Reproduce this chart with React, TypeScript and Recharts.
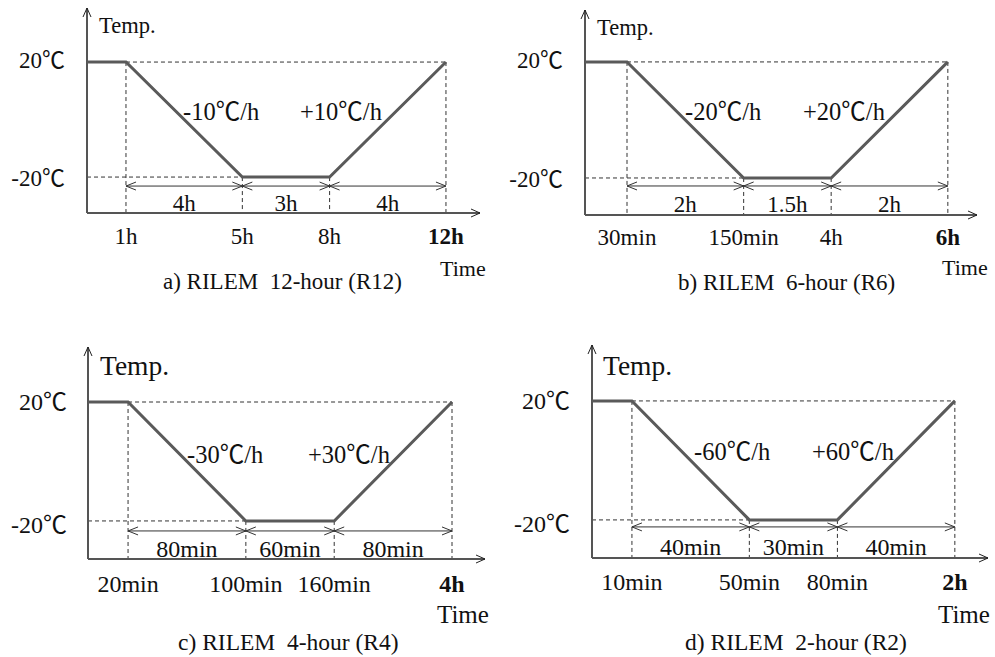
import React from "react";
import { LineChart, Line, XAxis, YAxis, ReferenceLine } from "recharts";

const FONT = '"Liberation Serif", "Times New Roman", serif';
const CJK = '"Noto Sans CJK SC", "DejaVu Sans", sans-serif';

// temperature levels and the shape of every cycle (hold, cool, hold, warm)
const levels = [20, -20];
const levelLabels = ["20℃", "-20℃"];
const profileTemps = [20, 20, -20, -20, 20];

// a) R12, time in hours
const r12Times = [1, 5, 8, 12];
const r12Ticks = ["1h", "5h", "8h", "12h"];
const r12Spans = ["4h", "3h", "4h"];
const r12Rates = ["-10℃/h", "+10℃/h"];

// b) R6, time in hours
const r6Times = [0.5, 2.5, 4, 6];
const r6Ticks = ["30min", "150min", "4h", "6h"];
const r6Spans = ["2h", "1.5h", "2h"];
const r6Rates = ["-20℃/h", "+20℃/h"];

// c) R4, time in minutes
const r4Times = [20, 100, 160, 240];
const r4Ticks = ["20min", "100min", "160min", "4h"];
const r4Spans = ["80min", "60min", "80min"];
const r4Rates = ["-30℃/h", "+30℃/h"];

// d) R2, time in minutes
const r2Times = [10, 50, 80, 120];
const r2Ticks = ["10min", "50min", "80min", "2h"];
const r2Spans = ["40min", "30min", "40min"];
const r2Rates = ["-60℃/h", "+60℃/h"];

type Txt = { x: number; y: number; size: number };

type Panel = {
  id: string;
  title: string;
  times: number[];
  ticks: string[];
  spans: string[];
  rates: string[];
  left: number;
  top: number;
  width: number;
  height: number;
  marginTop: number;
  marginRight: number;
  yAxisWidth: number;
  xAxisHeight: number;
  xDomain: [number, number];
  yDomain: [number, number];
  tickDy: number;
  levelDy: number[];
  levelGap: number;
  arrowDy: number;
  spanDy: number;
  size: number;
  rateSize: number;
  temp: Txt;
  time: Txt;
  head: Txt;
  rateAt: { x: number; y: number }[];
};

const panels: Panel[] = [
  {
    id: "a", title: "a) RILEM \u00a012-hour (R12)",
    times: r12Times, ticks: r12Ticks, spans: r12Spans, rates: r12Rates,
    left: 0, top: 0, width: 495, height: 325,
    marginTop: 8, marginRight: 15, yAxisWidth: 87, xAxisHeight: 112,
    xDomain: [-0.34, 13.17], yDomain: [-32.5, 38.8],
    tickDy: 31, levelDy: [6, 9], levelGap: 22, arrowDy: 9, spanDy: 34, size: 23, rateSize: 24.5,
    temp: { x: 99, y: 33, size: 22.5 }, time: { x: 440, y: 276, size: 22 },
    head: { x: 163, y: 289, size: 23 },
    rateAt: [{ x: 183, y: 120 }, { x: 300, y: 120 }],
  },
  {
    id: "b", title: "b) RILEM \u00a06-hour (R6)",
    times: r6Times, ticks: r6Ticks, spans: r6Spans, rates: r6Rates,
    left: 495, top: 0, width: 500, height: 325,
    marginTop: 10, marginRight: 18, yAxisWidth: 90, xAxisHeight: 110,
    xDomain: [-0.22, 6.5], yDomain: [-32.76, 37.9],
    tickDy: 30, levelDy: [6, 9], levelGap: 22, arrowDy: 8, spanDy: 34, size: 23, rateSize: 24.5,
    temp: { x: 102, y: 35, size: 22.5 }, time: { x: 447, y: 275, size: 22 },
    head: { x: 183, y: 290, size: 23 },
    rateAt: [{ x: 190, y: 120 }, { x: 308, y: 120 }],
  },
  {
    id: "c", title: "c) RILEM \u00a04-hour (R4)",
    times: r4Times, ticks: r4Ticks, spans: r4Spans, rates: r4Rates,
    left: 0, top: 325, width: 495, height: 332,
    marginTop: 22, marginRight: 10, yAxisWidth: 88, xAxisHeight: 98,
    xDomain: [-7.2, 262.4], yDomain: [-32.8, 38.5],
    tickDy: 33, levelDy: [8, 12], levelGap: 21, arrowDy: 10, spanDy: 36, size: 24, rateSize: 24.5,
    temp: { x: 100, y: 50, size: 27.5 }, time: { x: 437, y: 298, size: 25 },
    head: { x: 178, y: 325, size: 23.5 },
    rateAt: [{ x: 187, y: 138 }, { x: 308, y: 138 }],
  },
  {
    id: "d", title: "d) RILEM \u00a02-hour (R2)",
    times: r2Times, ticks: r2Ticks, spans: r2Spans, rates: r2Rates,
    left: 495, top: 325, width: 500, height: 332,
    marginTop: 20, marginRight: 7, yAxisWidth: 97, xAxisHeight: 99,
    xDomain: [-3.6, 131.3], yDomain: [-32.8, 38.8],
    tickDy: 32, levelDy: [8, 12], levelGap: 22, arrowDy: 7, spanDy: 35, size: 24, rateSize: 24.5,
    temp: { x: 108, y: 50, size: 27.5 }, time: { x: 443, y: 298, size: 25 },
    head: { x: 190, y: 325, size: 23.5 },
    rateAt: [{ x: 199, y: 135 }, { x: 317, y: 135 }],
  },
];

// splits "℃" out so it is drawn with a CJK font like the original
function withCelsius(s: string) {
  const parts = s.split("℃");
  if (parts.length === 1) return s;
  return (
    <>
      {parts[0]}
      <tspan fontFamily={CJK}>℃</tspan>
      {parts[1]}
    </>
  );
}

function axisShape(p: any) {
  const { x1, y1, x2, y2 } = p;
  const vertical = Math.abs(x1 - x2) < 0.5;
  const head = vertical
    ? `M${x2 - 4},${y2 + 9} L${x2},${y2} L${x2 + 4},${y2 + 9}`
    : `M${x2 - 9},${y2 - 4} L${x2},${y2} L${x2 - 9},${y2 + 4}`;
  return (
    <g>
      <line x1={x1} y1={y1} x2={x2} y2={y2} stroke="#555" strokeWidth={2} />
      <path d={head} fill="none" stroke="#222" strokeWidth={1} />
    </g>
  );
}

function spanShape(label: string, arrowDy: number, textDy: number, size: number) {
  return (p: any) => {
    const a = p.x1;
    const b = p.x2;
    const y = p.y1 + arrowDy;
    return (
      <g>
        <line x1={a} y1={y} x2={b} y2={y} stroke="#333" strokeWidth={1} />
        <path
          d={`M${a + 10},${y - 4} L${a},${y} L${a + 10},${y + 4} M${b - 10},${y - 4} L${b},${y} L${b - 10},${y + 4}`}
          fill="none"
          stroke="#333"
          strokeWidth={1}
        />
        <text x={(a + b) / 2} y={p.y1 + textDy} textAnchor="middle" fontSize={size} fontFamily={FONT} fill="#111">
          {label}
        </text>
      </g>
    );
  };
}

function ProfileChart({ panel }: { panel: Panel }) {
  const [x0, x1] = panel.xDomain;
  const [y0, y1] = panel.yDomain;
  const [tA, tB, tC, tD] = panel.times;
  const hot = levels[0];
  const cold = levels[1];
  const data = [x0, ...panel.times].map((t, i) => ({ t, temp: profileTemps[i] }));
  const dash = "4 3";
  const dashColor = "#333";

  const xTick = (p: any) => {
    const i = panel.times.indexOf(p.payload.value);
    return (
      <text
        x={p.x}
        y={p.y + panel.tickDy}
        textAnchor="middle"
        fontSize={panel.size}
        fontFamily={FONT}
        fontWeight={i === panel.times.length - 1 ? "bold" : "normal"}
        fill="#111"
      >
        {panel.ticks[i]}
      </text>
    );
  };

  const yTick = (p: any) => {
    const i = levels.indexOf(p.payload.value);
    return (
      <text
        x={p.x - panel.levelGap}
        y={p.y + panel.levelDy[i]}
        textAnchor="end"
        fontSize={panel.size}
        fontFamily={FONT}
        fill="#111"
      >
        {withCelsius(levelLabels[i])}
      </text>
    );
  };

  return (
    <div style={{ position: "absolute", left: panel.left, top: panel.top }}>
      <LineChart
        width={panel.width}
        height={panel.height}
        data={data}
        margin={{ top: panel.marginTop, right: panel.marginRight, left: 0, bottom: 0 }}
      >
        <XAxis
          type="number"
          dataKey="t"
          domain={panel.xDomain}
          allowDataOverflow
          ticks={panel.times}
          interval={0}
          height={panel.xAxisHeight}
          axisLine={false}
          tickLine={false}
          tickSize={0}
          tickMargin={0}
          tick={xTick}
        />
        <YAxis
          type="number"
          domain={panel.yDomain}
          allowDataOverflow
          ticks={levels}
          interval={0}
          width={panel.yAxisWidth}
          axisLine={false}
          tickLine={false}
          tickSize={0}
          tickMargin={0}
          tick={yTick}
        />

        {/* guide lines */}
        <ReferenceLine segment={[{ x: tA, y: hot }, { x: tD, y: hot }]} stroke={dashColor} strokeDasharray={dash} ifOverflow="visible" />
        <ReferenceLine segment={[{ x: x0, y: cold }, { x: tB, y: cold }]} stroke={dashColor} strokeDasharray={dash} ifOverflow="visible" />
        <ReferenceLine segment={[{ x: tA, y: hot }, { x: tA, y: y0 }]} stroke={dashColor} strokeDasharray={dash} ifOverflow="visible" />
        <ReferenceLine segment={[{ x: tB, y: cold }, { x: tB, y: y0 }]} stroke={dashColor} strokeDasharray={dash} ifOverflow="visible" />
        <ReferenceLine segment={[{ x: tC, y: cold }, { x: tC, y: y0 }]} stroke={dashColor} strokeDasharray={dash} ifOverflow="visible" />
        <ReferenceLine segment={[{ x: tD, y: hot }, { x: tD, y: y0 }]} stroke={dashColor} strokeDasharray={dash} ifOverflow="visible" />

        {/* duration arrows */}
        {[tA, tB, tC].map((t, i) => (
          <ReferenceLine
            key={"s" + i}
            segment={[{ x: t, y: cold }, { x: panel.times[i + 1], y: cold }]}
            ifOverflow="visible"
            shape={spanShape(panel.spans[i], panel.arrowDy, panel.spanDy, panel.size)}
          />
        ))}

        {/* axes with arrow heads */}
        <ReferenceLine segment={[{ x: x0, y: y0 }, { x: x0, y: y1 }]} ifOverflow="visible" shape={axisShape} />
        <ReferenceLine segment={[{ x: x0, y: y0 }, { x: x1, y: y0 }]} ifOverflow="visible" shape={axisShape} />

        <Line
          type="linear"
          dataKey="temp"
          stroke="#5a5a5a"
          strokeWidth={3}
          dot={false}
          activeDot={false}
          isAnimationActive={false}
        />

        <text x={panel.temp.x} y={panel.temp.y} fontSize={panel.temp.size} fontFamily={FONT} fill="#111">
          Temp.
        </text>
        <text x={panel.time.x} y={panel.time.y} fontSize={panel.time.size} fontFamily={FONT} fill="#111">
          Time
        </text>
        <text x={panel.head.x} y={panel.head.y} fontSize={panel.head.size} fontFamily={FONT} fill="#111">
          {panel.title}
        </text>
        {panel.rates.map((r, i) => (
          <text key={"r" + i} x={panel.rateAt[i].x} y={panel.rateAt[i].y} fontSize={panel.rateSize} fontFamily={FONT} fill="#111">
            {withCelsius(r)}
          </text>
        ))}
      </LineChart>
    </div>
  );
}

export default function App() {
  return (
    <div style={{ position: "absolute", left: 0, top: 0, width: 995, height: 657, background: "#fff" }}>
      {panels.map((p) => (
        <ProfileChart key={p.id} panel={p} />
      ))}
    </div>
  );
}
